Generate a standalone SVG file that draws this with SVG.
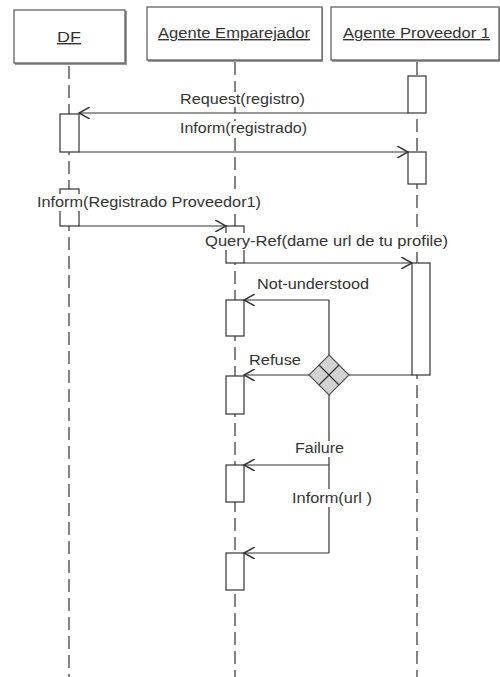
<svg xmlns="http://www.w3.org/2000/svg" width="500" height="677" viewBox="0 0 500 677">
  <style>
    .head { fill: #fff; stroke: #555; stroke-width: 1.2; }
    .shadow { fill: #999; }
    .life { stroke: #333; stroke-width: 1.2; stroke-dasharray: 13 6; fill: none; }
    .act { fill: #fff; stroke: #333; stroke-width: 1.2; }
    .msg { stroke: #333; stroke-width: 1.2; fill: none; }
    .lbl { font-family: "Liberation Sans", Arial, sans-serif; font-size: 14px; fill: #333; }
    .name { font-family: "Liberation Sans", Arial, sans-serif; font-size: 14px; fill: #333; text-decoration: underline; }
    .bg { fill: #fff; }
    .choice { fill: #d3d3d3; stroke: #555; stroke-width: 1.2; }
  </style>
  <defs>
    <marker id="open" markerUnits="userSpaceOnUse" markerWidth="12" markerHeight="12" refX="9" refY="5" orient="auto" viewBox="0 0 10 10">
      <path d="M0,0 L9,5 L0,10" fill="none" stroke="#333" stroke-width="1.2"/>
    </marker>
  </defs>

  <rect width="500" height="677" fill="#fff"/>

  <!-- lifelines -->
  <g id="lifelines">
    <line class="life" x1="69" y1="66" x2="69" y2="677"/>
    <line class="life" x1="235" y1="62" x2="235" y2="677"/>
    <line class="life" x1="417" y1="62" x2="417" y2="677"/>
  </g>

  <!-- participant heads -->
  <g id="df">
    <rect class="shadow" x="15" y="11" width="112" height="54"/>
    <rect class="head" x="14" y="10" width="111" height="53"/>
    <text class="name" x="57" y="42" textLength="24" lengthAdjust="spacingAndGlyphs">DF</text>
  </g>
  <g id="emparejador">
    <rect class="shadow" x="148" y="8" width="175" height="54"/>
    <rect class="head" x="147" y="7" width="175" height="53"/>
    <text class="name" x="158" y="38" textLength="152" lengthAdjust="spacingAndGlyphs">Agente Emparejador</text>
  </g>
  <g id="proveedor">
    <rect class="shadow" x="332" y="8" width="168" height="54"/>
    <rect class="head" x="331" y="7" width="168" height="53"/>
    <text class="name" x="343" y="38" textLength="147" lengthAdjust="spacingAndGlyphs">Agente Proveedor 1</text>
  </g>

  <!-- activation bars -->
  <g id="activations">
    <rect class="act" x="408" y="76" width="18" height="37"/>
    <rect class="act" x="60" y="114" width="19" height="38"/>
    <rect class="act" x="408" y="152" width="18" height="32"/>
    <rect class="act" x="60" y="189" width="19" height="37"/>
    <rect class="act" x="226" y="226" width="18" height="37"/>
    <rect class="act" x="412" y="263" width="18" height="112"/>
    <rect class="act" x="226" y="300" width="18" height="36"/>
    <rect class="act" x="226" y="376" width="18" height="38"/>
    <rect class="act" x="226" y="465" width="18" height="37"/>
    <rect class="act" x="226" y="553" width="18" height="37"/>
  </g>

  <!-- messages -->
  <g id="connectors">
    <line class="msg" x1="408" y1="113" x2="79" y2="113" marker-end="url(#open)"/>
    <line class="msg" x1="79" y1="152" x2="408" y2="152" marker-end="url(#open)"/>
    <line class="msg" x1="79" y1="226" x2="226" y2="226" marker-end="url(#open)"/>
    <line class="msg" x1="244" y1="263" x2="412" y2="263" marker-end="url(#open)"/>
    <line class="msg" x1="412" y1="375" x2="349" y2="375"/>
    <line class="msg" x1="329" y1="300" x2="329" y2="355"/>
    <line class="msg" x1="329" y1="395" x2="329" y2="553"/>
    <line class="msg" x1="329" y1="300" x2="244" y2="300" marker-end="url(#open)"/>
    <line class="msg" x1="309" y1="375" x2="244" y2="375" marker-end="url(#open)"/>
    <line class="msg" x1="329" y1="465" x2="244" y2="465" marker-end="url(#open)"/>
    <line class="msg" x1="329" y1="553" x2="244" y2="553" marker-end="url(#open)"/>
  </g>

  <!-- choice point -->
  <g id="choice">
    <path class="choice" d="M329,355 L349,375 L329,395 L309,375 Z"/>
    <path class="msg" d="M339,365 L319,385 M319,365 L339,385" stroke="#555"/>
  </g>

  <!-- message labels -->
  <g id="labels">
    <rect class="bg" x="180" y="92" width="126" height="15"/>
    <text class="lbl" x="180" y="104" textLength="125" lengthAdjust="spacingAndGlyphs">Request(registro)</text>
    <rect class="bg" x="180" y="121" width="128" height="15"/>
    <text class="lbl" x="180" y="133" textLength="127" lengthAdjust="spacingAndGlyphs">Inform(registrado)</text>
    <rect class="bg" x="36" y="194" width="226" height="17"/>
    <text class="lbl" x="37" y="207" textLength="224" lengthAdjust="spacingAndGlyphs">Inform(Registrado Proveedor1)</text>
    <rect class="bg" x="204" y="233" width="245" height="17"/>
    <text class="lbl" x="205" y="246" textLength="243" lengthAdjust="spacingAndGlyphs">Query-Ref(dame url de tu profile)</text>
    <text class="lbl" x="257" y="289" textLength="112" lengthAdjust="spacingAndGlyphs">Not-understood</text>
    <text class="lbl" x="249" y="365" textLength="52" lengthAdjust="spacingAndGlyphs">Refuse</text>
    <rect class="bg" x="294" y="441" width="51" height="16"/>
    <text class="lbl" x="295" y="453" textLength="49" lengthAdjust="spacingAndGlyphs">Failure</text>
    <rect class="bg" x="291" y="489" width="82" height="18"/>
    <text class="lbl" x="292" y="503" textLength="80" lengthAdjust="spacingAndGlyphs">Inform(url )</text>
  </g>
</svg>
